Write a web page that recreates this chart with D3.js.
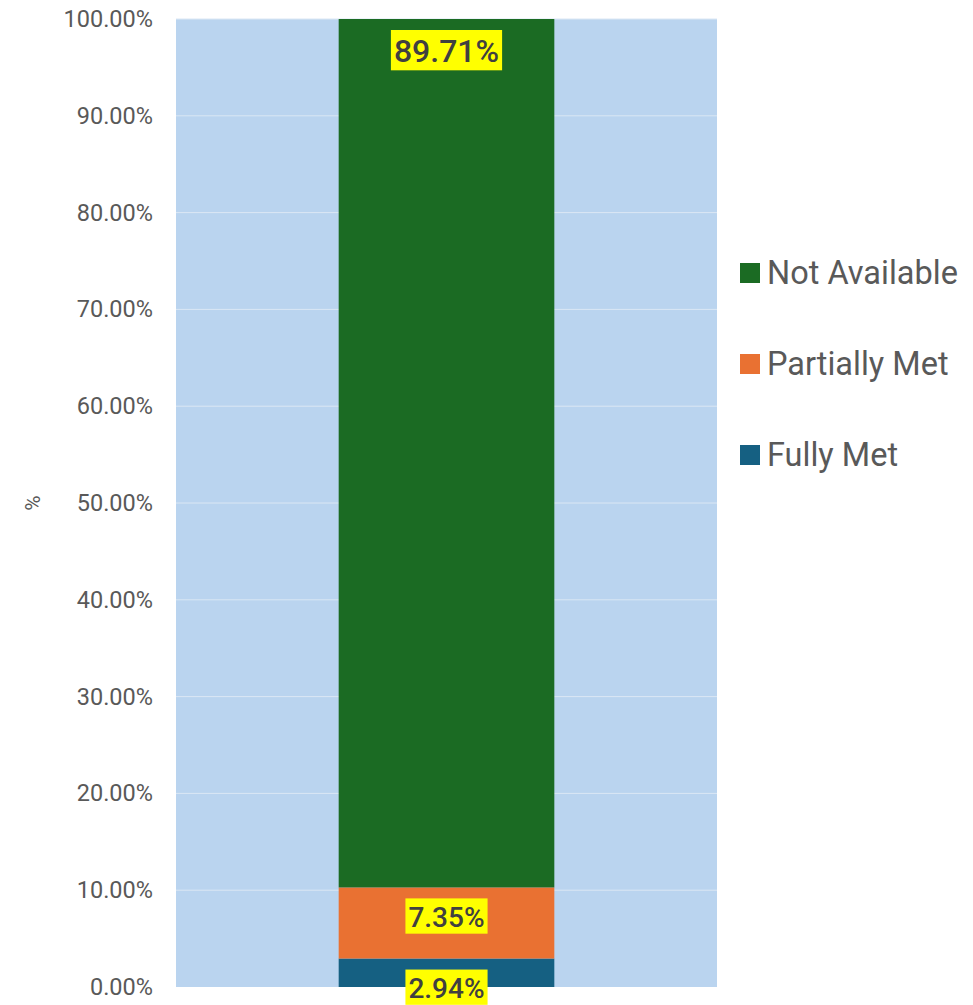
<!DOCTYPE html>
<html>
<head>
<meta charset="utf-8">
<script src="https://cdn.jsdelivr.net/npm/d3@7"></script>
<style>
  body { margin: 0; background: #fff; font-family: Roboto, sans-serif; }
</style>
</head>
<body>
<div id="chart"></div>
<script>
const categories = ["All"];
const seriesNames = ["Fully Met", "Partially Met", "Not Available"];
const seriesValues = [2.94, 7.35, 89.71];
const seriesColors = ["#156082", "#e97132", "#1b6b23"];
const yTicks = [0, 10, 20, 30, 40, 50, 60, 70, 80, 90, 100];

const width = 973, height = 1005;
const margin = { top: 19, right: 256, bottom: 18, left: 176 };
const innerW = width - margin.left - margin.right;
const innerH = height - margin.top - margin.bottom;

const svg = d3.select("#chart").append("svg")
  .attr("width", width)
  .attr("height", height);

const g = svg.append("g")
  .attr("transform", `translate(${margin.left},${margin.top})`);

// plot background
g.append("rect")
  .attr("width", innerW)
  .attr("height", innerH)
  .attr("fill", "#bad4ef");

const x = d3.scaleBand().domain(categories).range([0, innerW]).padding(0.43);
const y = d3.scaleLinear().domain([0, 100]).range([innerH, 0]);

// gridlines
g.append("g")
  .selectAll("line")
  .data(yTicks.slice(1))
  .join("line")
  .attr("x1", 0)
  .attr("x2", innerW)
  .attr("y1", d => y(d))
  .attr("y2", d => y(d))
  .attr("stroke", "#dbe7f4")
  .attr("stroke-width", 1);

// y axis
const yAxis = g.append("g")
  .call(d3.axisLeft(y).tickValues(yTicks).tickFormat(d => d.toFixed(2) + "%").tickSize(0).tickPadding(23));
yAxis.select(".domain").remove();
yAxis.selectAll("text")
  .style("font-family", "Roboto, sans-serif")
  .style("font-size", "23.5px")
  .attr("fill", "#595959");

svg.append("text")
  .attr("transform", `translate(40,${margin.top + innerH / 2}) rotate(-90)`)
  .attr("text-anchor", "middle")
  .style("font-size", "21px")
  .attr("fill", "#595959")
  .text("%");

// stacked segments
const stackData = [];
let acc = 0;
seriesValues.forEach((v, i) => {
  stackData.push({ name: seriesNames[i], y0: acc, y1: acc + v, value: v, color: seriesColors[i] });
  acc += v;
});

g.selectAll(".seg")
  .data(stackData)
  .join("rect")
  .attr("class", "seg")
  .attr("x", x(categories[0]))
  .attr("width", x.bandwidth())
  .attr("y", d => y(d.y1))
  .attr("height", d => y(d.y0) - y(d.y1))
  .attr("fill", d => d.color);

// data labels with yellow background
const labels = g.selectAll(".lbl")
  .data(stackData)
  .join("g")
  .attr("class", "lbl");

labels.each(function(d) {
  const grp = d3.select(this);
  const fs = d.value > 50 ? 32 : 28;
  const boxH = fs * 1.26;
  const boxTop = y(d.y1) + 11;
  const t = grp.append("text")
    .attr("x", x(categories[0]) + x.bandwidth() / 2)
    .attr("y", boxTop + boxH / 2 + 1)
    .attr("text-anchor", "middle")
    .attr("dominant-baseline", "central")
    .style("font-size", fs + "px")
    .style("font-weight", "500")
    .attr("fill", "#404040")
    .text(d.value.toFixed(2) + "%");
  const bb = t.node().getBBox();
  grp.insert("rect", "text")
    .attr("x", bb.x - 3)
    .attr("y", boxTop)
    .attr("width", bb.width + 6)
    .attr("height", boxH)
    .attr("fill", "#ffff00");
});

// legend
const legendItems = seriesNames.map((n, i) => ({ name: n, color: seriesColors[i] })).reverse();
const legend = svg.append("g")
  .attr("transform", "translate(740,272)");

const li = legend.selectAll("g")
  .data(legendItems)
  .join("g")
  .attr("transform", (d, i) => `translate(0,${i * 91})`);

li.append("rect")
  .attr("x", 0)
  .attr("y", -9)
  .attr("width", 20)
  .attr("height", 20)
  .attr("fill", d => d.color);

li.append("text")
  .attr("x", 27)
  .attr("y", 1)
  .attr("dominant-baseline", "central")
  .style("font-size", "32.5px")
  .attr("fill", "#595959")
  .text(d => d.name);
</script>
</body>
</html>
